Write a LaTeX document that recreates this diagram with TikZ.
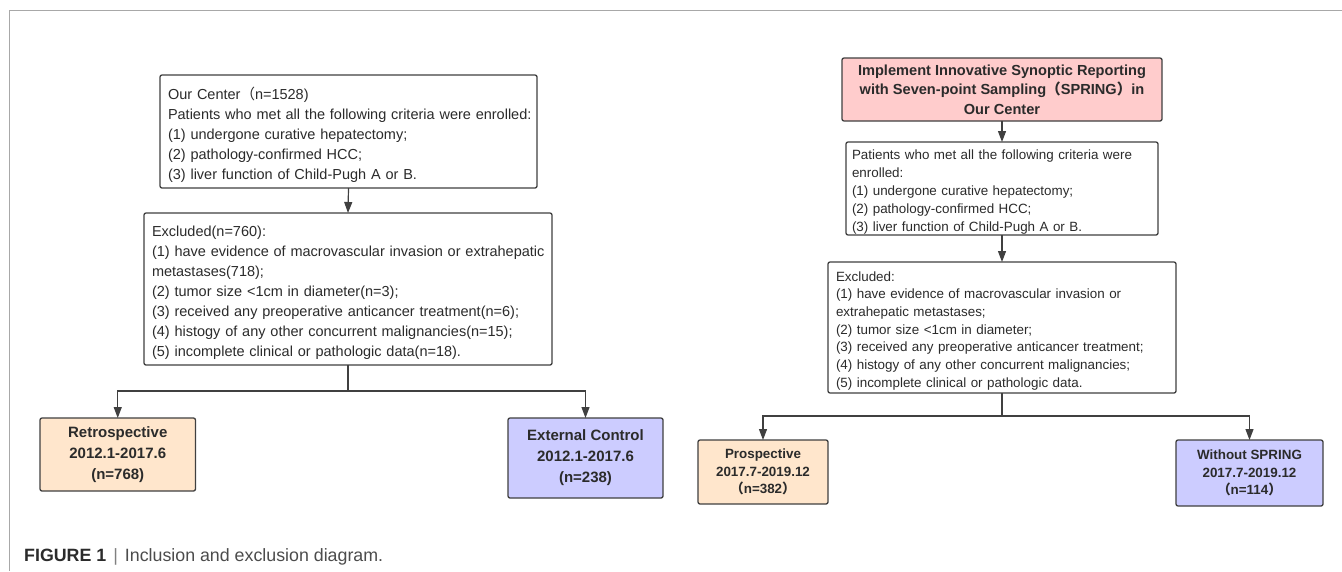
\documentclass[tikz,border=0pt]{standalone}
\usepackage{fontspec}
\setmainfont{Liberation Sans}
\newfontfamily\cjk{Noto Sans CJK SC}
\usetikzlibrary{arrows.meta}
\definecolor{txtcol}{HTML}{2B2B2B}
\definecolor{bordercol}{HTML}{404040}
\definecolor{peach}{HTML}{FFE6CC}
\definecolor{lavender}{HTML}{CCCCFF}
\definecolor{pinkfill}{HTML}{FFCCCC}
\definecolor{framecol}{HTML}{A8A8A8}
\begin{document}
\begin{tikzpicture}[x=1pt,y=-1pt,
  box/.style={draw=bordercol, line width=1.3pt, rounded corners=2pt, inner sep=0pt, outer sep=0pt, text=txtcol},
  wbox/.style={box, fill=white, align=left, inner xsep=0pt},
  bbox/.style={box, align=center, font=\bfseries\fontsize{15}{21}\selectfont},
  sbox/.style={box, align=center, font=\bfseries\fontsize{13.4}{17.5}\selectfont},
  conn/.style={draw=bordercol, line width=1.2pt},
  arr/.style={conn, -{Triangle[length=11pt,width=8pt]}}
]
\useasboundingbox (0,0) rectangle (1342,571);
\fill[white] (0,0) rectangle (1342,571);
% frame
\draw[framecol, line width=1pt] (1342,10.5) -- (9.3,10.5) -- (9.3,571);

% ---------- left flow ----------
\node[wbox, text width=377pt, minimum height=113pt, text height=19pt,
      font=\fontsize{14.5}{20}\selectfont, execute at begin node={\leftskip=8pt}]
  (b1) at (348.5,131.5)
  {Our Center{\cjk （}n=1528)\\
   Patients who met all the following criteria were enrolled:\\
   (1) undergone curative hepatectomy;\\
   (2) pathology-confirmed HCC;\\
   (3) liver function of Child-Pugh A or B.};

\node[wbox, text width=408pt, minimum height=152pt, text height=18pt,
      font=\fontsize{14.5}{20}\selectfont, execute at begin node={\leftskip=8pt}]
  (b2) at (348,289)
  {Excluded(n=760):\\
   (1) have evidence of macrovascular invasion or extrahepatic\\
   metastases(718);\\
   (2) tumor size <1cm in diameter(n=3);\\
   (3) received any preoperative anticancer treatment(n=6);\\
   (4) histogy of any other concurrent malignancies(n=15);\\
   (5) incomplete clinical or pathologic data(n=18).};

\node[bbox, fill=peach, minimum width=155.5pt, minimum height=73pt] (retro) at (117.75,454.5)
  {Retrospective\\2012.1-2017.6\\(n=768)};
\node[bbox, fill=lavender, minimum width=155pt, minimum height=80pt] (ext) at (585.5,458)
  {External Control\\2012.1-2017.6\\(n=238)};

\coordinate (j1) at (348,391);
\draw[arr] (b1.south) -- (b2.north);
\draw[conn] (b2.south) -- (j1);
\draw[arr] (j1) -| (retro.north);
\draw[arr] (j1) -| (ext.north);

% ---------- right flow ----------
\node[box, fill=pinkfill, align=center, minimum width=320pt, minimum height=63pt,
      font=\bfseries\fontsize{14.6}{19.3}\selectfont] (p0) at (1002,89.5)
  {Implement Innovative Synoptic Reporting\\
   with Seven-point Sampling{\cjk （}SPRING{\cjk ）}in\\
   Our Center};

\node[wbox, text width=312pt, minimum height=93pt, text height=17pt,
      font=\fontsize{13.4}{18}\selectfont, execute at begin node={\leftskip=6pt}]
  (c1) at (1002,188.5)
  {Patients who met all the following criteria were\\
   enrolled:\\
   (1) undergone curative hepatectomy;\\
   (2) pathology-confirmed HCC;\\
   (3) liver function of Child-Pugh A or B.};

\node[wbox, text width=348pt, minimum height=131pt, text height=16pt,
      font=\fontsize{13.4}{17.7}\selectfont, execute at begin node={\leftskip=8pt}]
  (c2) at (1002,327.5)
  {Excluded:\\
   (1) have evidence of macrovascular invasion or\\
   extrahepatic metastases;\\
   (2) tumor size <1cm in diameter;\\
   (3) received any preoperative anticancer treatment;\\
   (4) histogy of any other concurrent malignancies;\\
   (5) incomplete clinical or pathologic data.};

\node[sbox, fill=peach, minimum width=130pt, minimum height=64pt] (pro) at (763,472)
  {Prospective\\2017.7-2019.12\\{\cjk （}n=382{\cjk ）}};
\node[sbox, fill=lavender, minimum width=147pt, minimum height=66pt] (wo) at (1249.5,473)
  {Without SPRING\\2017.7-2019.12\\{\cjk （}n=114{\cjk ）}};

\coordinate (j2) at (1002,416);
\draw[arr] (p0.south) -- (c1.north);
\draw[arr] (c1.south) -- (c2.north);
\draw[conn] (c2.south) -- (j2);
\draw[arr] (j2) -| (pro.north);
\draw[arr] (j2) -| (wo.north);

% ---------- caption ----------
\node[anchor=base west, inner sep=0pt, font=\fontsize{17.8}{20}\selectfont] (cap) at (24,561)
  {{\bfseries\color{txtcol}FIGURE 1}\hspace{7pt}{\color{gray}|}\hspace{7pt}{\color{black!70}Inclusion and exclusion diagram.}};
\end{tikzpicture}
\end{document}
